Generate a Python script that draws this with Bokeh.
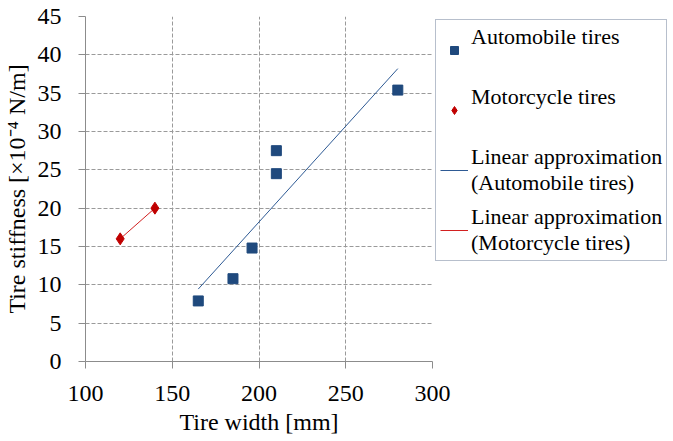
from bokeh.plotting import figure
from bokeh.models import Range1d, Legend, LegendItem, FixedTicker
from bokeh.embed import file_html
from bokeh.resources import INLINE

# data
auto_width = [165, 185, 196, 210, 210, 280]
auto_stiff = [7.9, 10.8, 14.8, 27.5, 24.5, 35.4]
moto_width = [120, 140]
moto_stiff = [16.0, 20.0]
fit_auto_x = [165, 280]
fit_auto_y = [9.45, 38.2]
fit_moto_x = [120, 140]
fit_moto_y = [16.0, 20.0]
x_ticks = [100, 150, 200, 250, 300]
y_ticks = [0, 5, 10, 15, 20, 25, 30, 35, 40, 45]

FONT = "'Liberation Serif', 'Times New Roman', serif"
BLUE = "#1f497d"
RED = "#c00000"

p = figure(frame_width=347, frame_height=345, output_backend="svg", toolbar_location=None,
           x_range=Range1d(100, 300), y_range=Range1d(0, 45),
           min_border_left=82, min_border_top=16, min_border_bottom=60,
           min_border_right=0)
p.outline_line_color = None
p.background_fill_color = "white"

l_auto = p.line(fit_auto_x, fit_auto_y, line_color="#2e5a94", line_width=1)
l_moto = p.line(fit_moto_x, fit_moto_y, line_color="#d22020", line_width=1)
s_auto = p.scatter(auto_width, auto_stiff, marker="square", size=10,
                   fill_color=BLUE, line_color=BLUE)
s_moto = p.scatter(moto_width, moto_stiff, marker="diamond", size=12,
                   fill_color=RED, line_color=RED)

for ax in (p.xaxis[0], p.yaxis[0]):
    ax.axis_line_color = "#8c8c8c"
    ax.major_tick_line_color = "#8c8c8c"
    ax.minor_tick_line_color = None
    ax.major_tick_in = 0
    ax.major_tick_out = 7
    ax.major_label_text_font = FONT
    ax.major_label_text_font_size = "24px"
    ax.major_label_text_color = "black"
    ax.axis_label_text_font = FONT
    ax.axis_label_text_font_size = "24px"
    ax.axis_label_text_font_style = "normal"
    ax.axis_label_text_color = "black"

p.xaxis.ticker = FixedTicker(ticks=x_ticks)
p.yaxis.ticker = FixedTicker(ticks=y_ticks)
p.xaxis.axis_label = "Tire width [mm]"
p.yaxis.axis_label = "Tire stiffness [×10⁻⁴ N/m]"
p.xaxis.major_label_standoff = 17
p.yaxis.major_label_standoff = 17
p.xaxis.axis_label_standoff = 5
p.yaxis.axis_label_standoff = 5

for g in (p.xgrid[0], p.ygrid[0]):
    g.grid_line_color = "#9a9a9a"
    g.grid_line_dash = "4 2"
    g.grid_line_width = 1

legend = Legend(items=[
    LegendItem(label="Automobile tires\n ", renderers=[s_auto]),
    LegendItem(label="Motorcycle tires\n ", renderers=[s_moto]),
    LegendItem(label="Linear approximation\n(Automobile tires)", renderers=[l_auto]),
    LegendItem(label="Linear approximation\n(Motorcycle tires)", renderers=[l_moto]),
], location="top_left")
legend.label_text_font = FONT
legend.label_text_font_size = "22px"
legend.label_text_line_height = 1.2
legend.label_text_color = "black"
legend.glyph_width = 28
legend.label_standoff = 3
legend.spacing = 8
legend.padding = 4
legend.margin = 3
legend.border_line_color = "#6f7f99"
legend.border_line_width = 1
legend.background_fill_alpha = 1
p.add_layout(legend, "right")

open("out.html", "w").write(file_html(p, INLINE))
